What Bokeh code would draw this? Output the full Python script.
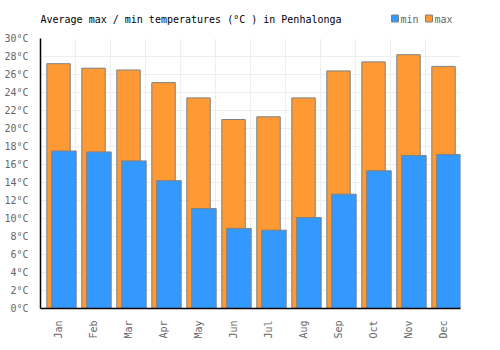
import numpy as np
from bokeh.plotting import figure
from bokeh.layouts import column
from bokeh.models import Range1d, FixedTicker, PrintfTickFormatter, ColumnDataSource
from bokeh.core.properties import value
from bokeh.embed import file_html
from bokeh.resources import INLINE

months = ["Jan", "Feb", "Mar", "Apr", "May", "Jun", "Jul", "Aug", "Sep", "Oct", "Nov", "Dec"]
t_min = [17.5, 17.4, 16.4, 14.2, 11.1, 8.9, 8.7, 10.1, 12.7, 15.3, 17.0, 17.1]
t_max = [27.2, 26.7, 26.5, 25.1, 23.4, 21.0, 21.3, 23.4, 26.4, 27.4, 28.2, 26.9]
y_ticks = list(range(0, 31, 2))
title_text = "Average max / min temperatures (°C ) in Penhalonga"
series_names = ["min", "max"]

FONT = "DejaVu Sans Mono"
FS = "10px"
BLUE = "#3399ff"
ORANGE = "#ff9933"
EDGE = "#808080"

# ---------- header (title + legend), 1 data unit = 1 page pixel ----------
head = figure(width=500, height=32, output_backend="svg", toolbar_location=None,
              x_range=Range1d(40, 460), y_range=Range1d(32, 0),
              min_border_left=40, min_border_right=40, min_border_top=0,
              min_border_bottom=0, x_axis_type=None, y_axis_type=None)
head.outline_line_color = None
head.grid.visible = False
head.text(x=[40], y=[19], text=[title_text], text_font=value(FONT),
          text_font_size=FS, text_color="#000000", text_baseline="middle")
head.rect(x=[394.5, 428.5], y=[18, 18], width=7, height=7,
          fill_color=[BLUE, ORANGE], line_color=EDGE, line_width=1)
head.text(x=[400, 434], y=[19, 19], text=series_names, text_font=value(FONT),
          text_font_size=FS, text_color="#666666", text_baseline="middle")

# ---------- main chart ----------
idx = np.arange(len(months))
src = ColumnDataSource(dict(
    xmax=idx + 0.515, xmin=idx + 0.67, tmin=t_min, tmax=t_max))

p = figure(width=500, height=318, output_backend="svg", toolbar_location=None,
           x_range=Range1d(0, 12), y_range=Range1d(0, 30),
           min_border_left=40, min_border_right=40,
           min_border_top=6, min_border_bottom=42)
p.outline_line_color = None

p.vbar(x="xmax", top="tmax", bottom=0, width=0.67, source=src,
       fill_color=ORANGE, line_color=EDGE, line_width=1)
p.vbar(x="xmin", top="tmin", bottom=0, width=0.70, source=src,
       fill_color=BLUE, line_color=EDGE, line_width=1)

p.xaxis.ticker = FixedTicker(ticks=list(idx + 0.5))
p.xaxis.major_label_overrides = {float(i + 0.5): m for i, m in enumerate(months)}
p.xaxis.major_label_orientation = np.pi / 2
p.xaxis.major_tick_line_color = None
p.xaxis.minor_tick_line_color = None
p.xaxis.axis_line_color = "black"
p.xaxis.axis_line_width = 1.5
p.xaxis.major_label_text_font = FONT
p.xaxis.major_label_text_font_size = FS
p.xaxis.major_label_text_color = "#666666"
p.xaxis.major_label_standoff = 6

p.yaxis.ticker = FixedTicker(ticks=y_ticks)
p.yaxis.formatter = PrintfTickFormatter(format="%d°C")
p.yaxis.major_tick_line_color = None
p.yaxis.minor_tick_line_color = None
p.yaxis.axis_line_color = "black"
p.yaxis.axis_line_width = 1.5
p.yaxis.major_label_text_font = FONT
p.yaxis.major_label_text_font_size = FS
p.yaxis.major_label_text_color = "#666666"
p.yaxis.major_label_standoff = 6

p.xgrid.ticker = FixedTicker(ticks=list(range(0, 13)))
p.xgrid.grid_line_color = "#eeeeee"
p.ygrid.grid_line_color = "#eeeeee"

layout = column(head, p, spacing=0)
open("out.html", "w").write(file_html(layout, INLINE))
